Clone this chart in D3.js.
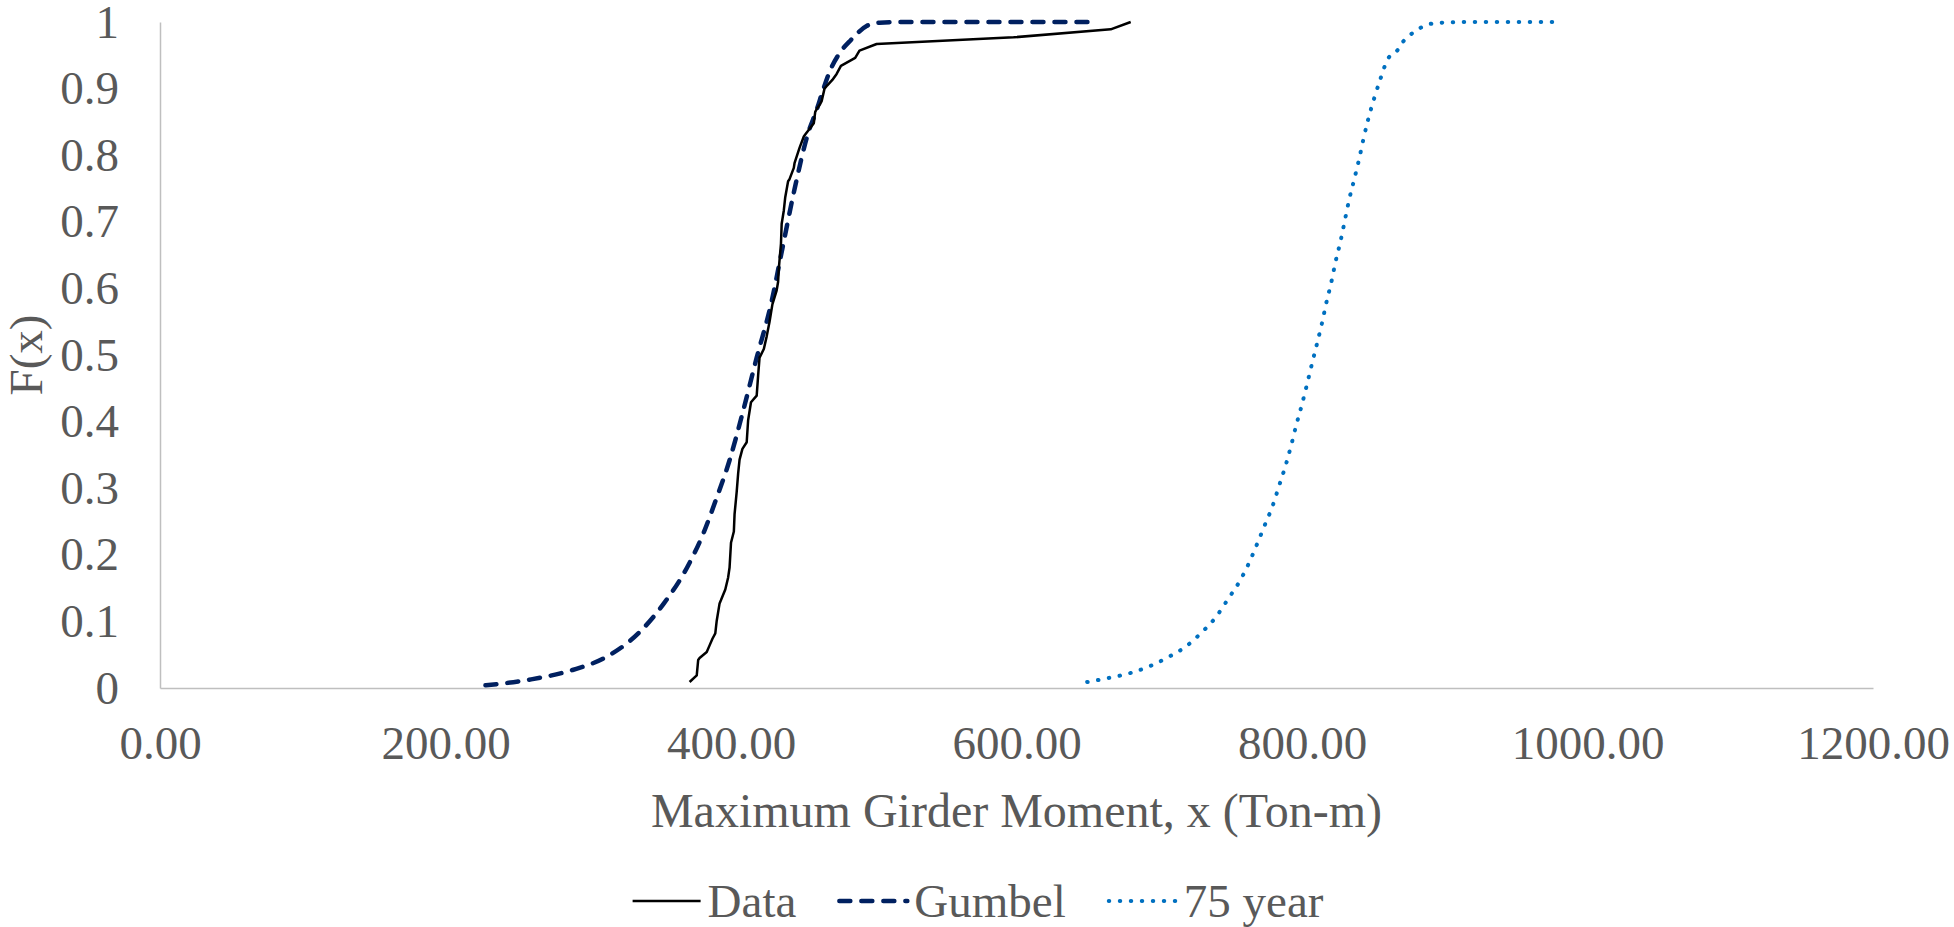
<!DOCTYPE html>
<html>
<head>
<meta charset="utf-8">
<script src="https://cdn.jsdelivr.net/npm/d3@7"></script>
<style>
  body { margin: 0; background: #fff; }
  svg { display: block; }
  text { font-family: "Liberation Serif", "Times New Roman", serif; fill: #595959; }
</style>
</head>
<body>
<svg id="chart" width="1954" height="927"></svg>
<script>
// values: [moment x, F(x)]
var seriesNames = ["Data", "Gumbel", "75 year"];
var xTicks = [0, 200, 400, 600, 800, 1000, 1200];
var yTicks = [0, 0.1, 0.2, 0.3, 0.4, 0.5, 0.6, 0.7, 0.8, 0.9, 1];

var dataPts = [
  [371, 0.009], [376, 0.019], [377, 0.042], [378, 0.045], [383, 0.054], [385, 0.064],
  [387, 0.074], [389, 0.082], [390, 0.101], [392, 0.127], [393, 0.132], [396, 0.148],
  [398, 0.166], [399, 0.181], [400, 0.218], [402, 0.235], [402.5, 0.261], [404, 0.295],
  [405, 0.322], [406, 0.343], [408, 0.359], [411, 0.369], [412, 0.402], [414, 0.429],
  [418, 0.439], [419, 0.469], [420, 0.496], [423, 0.509], [425, 0.528], [427, 0.55],
  [428, 0.563], [429, 0.576], [432, 0.597], [433, 0.61], [433.5, 0.63], [435, 0.667],
  [435.5, 0.697], [437, 0.717], [438, 0.737], [440, 0.761], [441, 0.764], [444, 0.781],
  [444.5, 0.788], [448, 0.811], [451, 0.828], [452, 0.831], [458, 0.848], [459, 0.865],
  [460.5, 0.871], [462.5, 0.877], [463.5, 0.881], [465.5, 0.9], [467.5, 0.905],
  [471, 0.913], [474, 0.922], [477, 0.934], [487, 0.946], [490, 0.957], [502, 0.967],
  [598, 0.977], [666, 0.989], [680, 1.0]
];

var gumbelPts = [
  [228, 0.004], [260, 0.013], [289, 0.027], [313, 0.047], [336, 0.084], [353, 0.127],
  [370, 0.184], [381, 0.234], [389, 0.28], [399, 0.342], [408, 0.412], [418, 0.496],
  [428, 0.576], [436, 0.66], [444, 0.744], [454, 0.833], [460, 0.868], [464.5, 0.898],
  [469, 0.925], [476, 0.953], [484, 0.973], [495, 0.994], [504, 0.999], [520, 1], [650, 1]
];

var yearPts = [
  [649.5, 0.009], [664.5, 0.015], [679, 0.022], [692.5, 0.032], [706, 0.046], [718.5, 0.062],
  [729.5, 0.083], [739.5, 0.106], [748, 0.133], [756, 0.159], [762.5, 0.186], [768.5, 0.216],
  [774, 0.245], [779.5, 0.274], [784, 0.304], [788.5, 0.334], [792.5, 0.365], [796, 0.395],
  [800, 0.426], [803.5, 0.456], [807, 0.487], [810.5, 0.517], [814, 0.548], [817, 0.578],
  [820.5, 0.609], [823.5, 0.64], [827, 0.671], [830, 0.702], [833, 0.733], [836.5, 0.763],
  [840, 0.794], [843, 0.824], [846.5, 0.855], [850.5, 0.885], [855, 0.915], [860, 0.944],
  [867, 0.958], [871, 0.971], [876, 0.981], [882, 0.99], [889, 0.9966], [896, 0.9987],
  [915, 1], [980, 1]
];

var svg = d3.select("#chart");
var plotL = 160, plotR = 1873, plotT = 22, plotB = 688;

var x = d3.scaleLinear().domain([0, 1200]).range([plotL, plotR]);
var y = d3.scaleLinear().domain([0, 1]).range([plotB, plotT]);

// axes
svg.append("g")
  .attr("transform", "translate(0," + plotB + ")")
  .call(d3.axisBottom(x).tickValues(xTicks).tickFormat(d3.format(".2f")).tickSize(0).tickPadding(38));
svg.append("g")
  .attr("transform", "translate(" + plotL + ",0)")
  .call(d3.axisLeft(y).tickValues(yTicks).tickFormat(d3.format("")).tickSize(0).tickPadding(41));

svg.selectAll(".domain").attr("stroke", "#BFBFBF").attr("stroke-width", 1.5);
svg.selectAll(".tick text").attr("font-size", 47).attr("fill", "#595959")
  .attr("font-family", "Liberation Serif, Times New Roman, serif");

svg.append("text")
  .attr("x", (plotL + plotR) / 2).attr("y", 827)
  .attr("text-anchor", "middle").attr("font-size", 48)
  .text("Maximum Girder Moment, x (Ton-m)");

svg.append("text")
  .attr("transform", "translate(42," + ((plotT + plotB) / 2) + ") rotate(-90)")
  .attr("text-anchor", "middle").attr("font-size", 47)
  .text("F(x)");

// series
var styles = {
  "Data":    { color: "#000000", width: 2.5, dash: null, curve: d3.curveLinear },
  "Gumbel":  { color: "#002060", width: 4.5, dash: "11 11", curve: d3.curveMonotoneX },
  "75 year": { color: "#0070C0", width: 4, dash: "0.5 10.5", curve: d3.curveMonotoneX }
};
var pts = { "Data": dataPts, "Gumbel": gumbelPts, "75 year": yearPts };

seriesNames.slice().reverse().forEach(function(name) {
  var st = styles[name];
  var line = d3.line()
    .x(function(d) { return x(d[0]); })
    .y(function(d) { return y(d[1]); })
    .curve(st.curve);
  svg.append("path")
    .datum(pts[name])
    .attr("d", line)
    .attr("fill", "none")
    .attr("stroke", st.color)
    .attr("stroke-width", st.width)
    .attr("stroke-linecap", st.dash ? "round" : "butt")
    .attr("stroke-linejoin", "round")
    .attr("stroke-dasharray", st.dash);
});

// legend
var legend = svg.append("g");
var cx = 0;
seriesNames.forEach(function(name) {
  var st = styles[name];
  var g = legend.append("g").attr("transform", "translate(" + cx + ",0)");
  g.append("line")
    .attr("x1", 2).attr("x2", 70).attr("y1", 901).attr("y2", 901)
    .attr("stroke", st.color).attr("stroke-width", st.width)
    .attr("stroke-linecap", st.dash ? "round" : "butt")
    .attr("stroke-dasharray", st.dash);
  var t = g.append("text")
    .attr("x", 77).attr("y", 917)
    .attr("font-size", 47)
    .text(name);
  cx += 77 + t.node().getComputedTextLength() + 41;
});
var lw = cx - 41;
legend.attr("transform", "translate(" + (977 - lw / 2) + ",0)");
</script>
</body>
</html>
